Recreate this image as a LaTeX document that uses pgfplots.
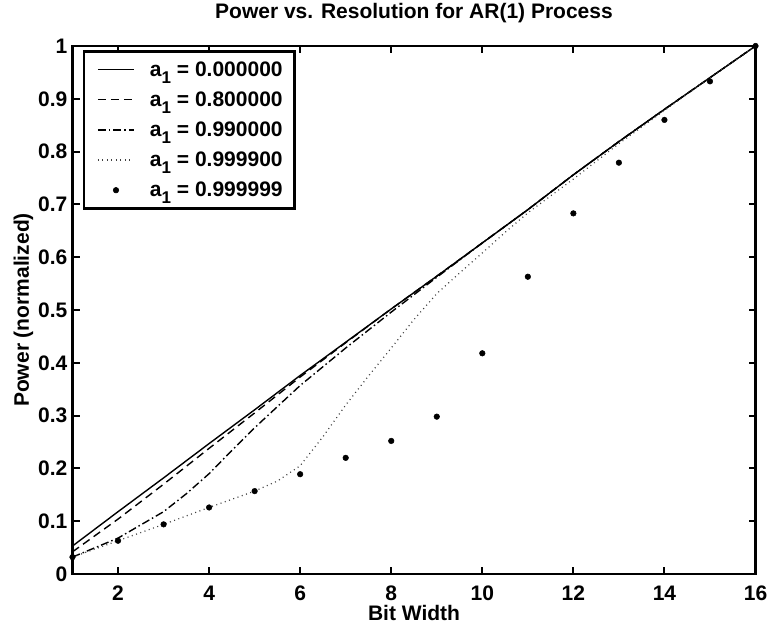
\documentclass[border=0pt]{standalone}
\usepackage{fontspec}
\setmainfont{Liberation Sans}
\usepackage{pgfplots}
\pgfplotsset{compat=1.18}
\newcommand{\sub}{a\raisebox{-7pt}{\fontsize{17}{17}\selectfont 1}}
\begin{document}
\begin{tikzpicture}[font=\fontsize{21}{25}\selectfont\bfseries]
\path[use as bounding box] (-72.5pt,-57pt) rectangle (697.5pt,574pt);
\begin{axis}[
  at={(0pt,0pt)}, anchor=south west,
  width=683pt, height=528pt, scale only axis,
  xmin=1, xmax=16, ymin=0, ymax=1,
  xtick={2,4,6,8,10,12,14,16},
  xticklabels={2,4,6,8,10,12,14,16},
  ytick={0,0.1,0.2,0.3,0.4,0.5,0.6,0.7,0.8,0.9,1},
  yticklabels={0,0.1,0.2,0.3,0.4,0.5,0.6,0.7,0.8,0.9,1},
  tick align=inside, major tick length=7pt,
  axis line style={line width=2.5pt},
  every tick/.style={line width=2pt, black},
  xticklabel style={anchor=base, inner sep=0pt, yshift=-26pt},
  yticklabel style={anchor=east, inner sep=0pt, xshift=-5pt},
  title={Power vs. Resolution for AR(1) Process},
  title style={at={(axis description cs:0.5,1)}, anchor=base, yshift=21pt},
  xlabel={Bit Width},
  xlabel style={at={(axis description cs:0.5,0)}, anchor=base, yshift=-46pt},
  ylabel={Power (normalized)},
  ylabel style={at={(axis description cs:-0.0637,0.5)}, anchor=base},
  legend style={at={(axis description cs:0.015,0.992)}, anchor=north west,
    draw=black, line width=2.5pt, fill=white, inner xsep=10pt, inner ysep=8pt,
    row sep=10pt},
  legend cell align=left,
  legend image code/.code={\path[draw=none,fill=none] (-4pt,0pt) (50pt,0pt);\draw[mark repeat=2,mark phase=2,#1] plot coordinates {(0pt,0pt) (18pt,0pt) (36pt,0pt)};},
]
\addplot[black, line width=1.4pt] coordinates {
(1,0.053) (2,0.118) (3,0.182) (4,0.247) (5,0.311) (6,0.376) (7,0.439) (8,0.502)
(9,0.564) (10,0.627) (11,0.690) (12,0.756) (13,0.819) (14,0.880) (15,0.940) (16,1.000)};
\addlegendentry{\sub\ = 0.000000}
\addplot[black, line width=1.4pt, dash pattern=on 8pt off 5pt] coordinates {
(1,0.042) (2,0.104) (3,0.170) (4,0.238) (5,0.305) (6,0.373) (7,0.438) (8,0.502)
(9,0.564) (10,0.627) (11,0.690) (12,0.756) (13,0.819) (14,0.880) (15,0.940) (16,1.000)};
\addlegendentry{\sub\ = 0.800000}
\addplot[black, line width=1.4pt, dash pattern=on 8pt off 3pt on 1.5pt off 3pt] coordinates {
(1,0.032) (2,0.068) (3,0.118) (3.5,0.152) (4,0.190) (4.5,0.234) (5,0.277) (6,0.357) (7,0.428) (8,0.496)
(9,0.562) (10,0.627) (11,0.690) (12,0.756) (13,0.819) (14,0.880) (15,0.940) (16,1.000)};
\addlegendentry{\sub\ = 0.990000}
\addplot[black!75, line width=1.2pt, dash pattern=on 1pt off 3.5pt] coordinates {
(1,0.032) (2,0.063) (3,0.094) (4,0.126) (5,0.157) (5.5,0.176) (6,0.205) (6.5,0.260) (7,0.320)
(7.5,0.375) (8,0.428) (8.5,0.482) (9,0.531) (9.5,0.570) (10,0.608) (10.5,0.647) (11,0.684)
(12,0.748) (13,0.815) (14,0.878) (15,0.940) (16,1.000)};
\addlegendentry{\sub\ = 0.999900}
\addplot[black, only marks, mark=*, mark size=2.8pt, line width=0.5pt] coordinates {
(1,0.032) (2,0.063) (3,0.094) (4,0.126) (5,0.157) (6,0.189) (7,0.220) (8,0.252)
(9,0.298) (10,0.418) (11,0.563) (12,0.683) (13,0.779) (14,0.860) (15,0.933) (16,1.000)};
\addlegendentry{\sub\ = 0.999999}
\end{axis}
\end{tikzpicture}
\end{document}
